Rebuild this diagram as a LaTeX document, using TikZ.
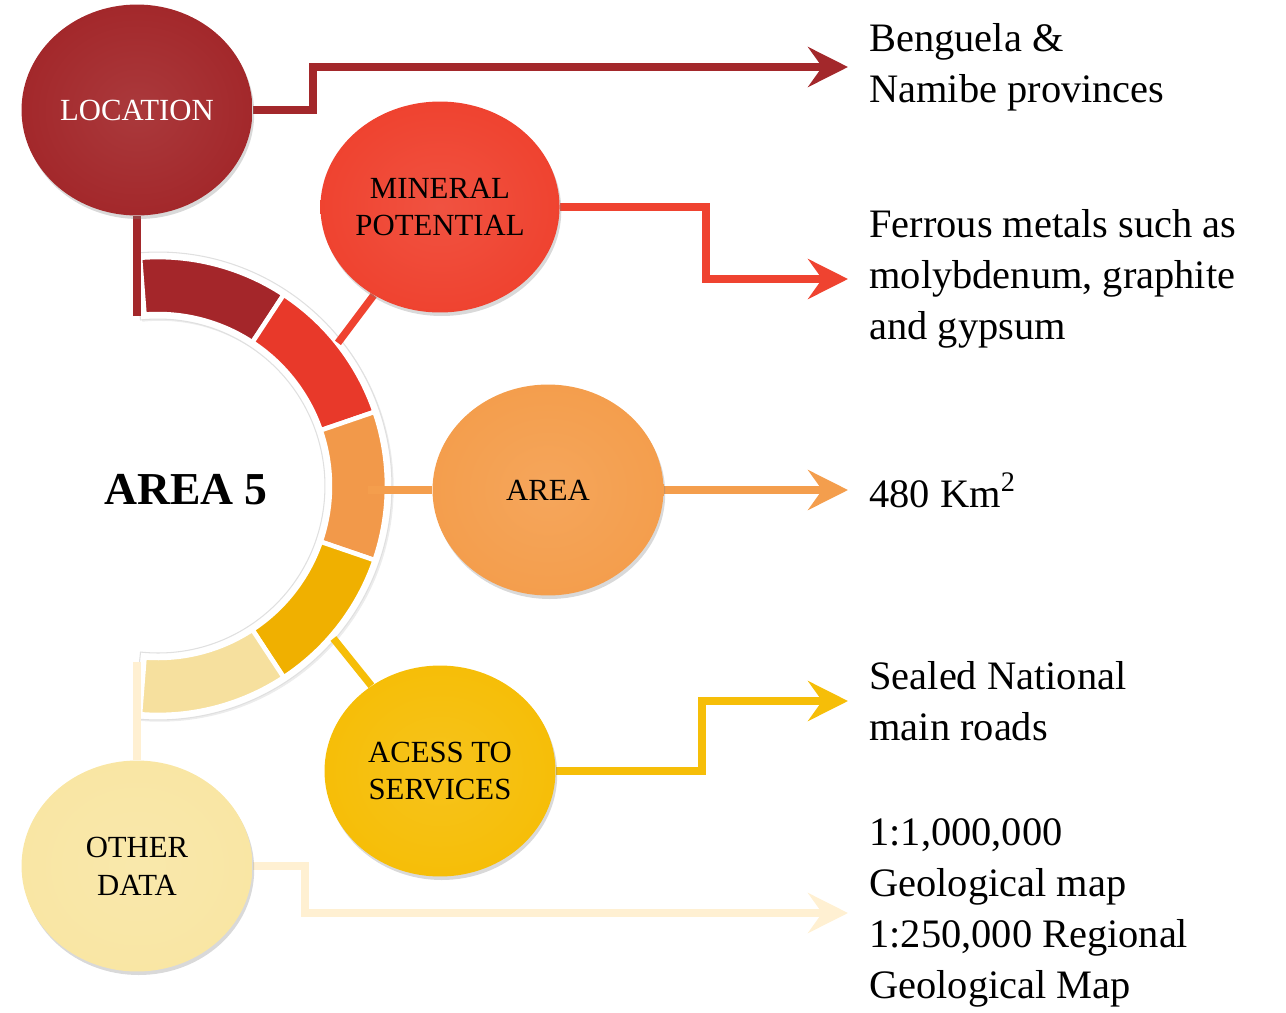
\documentclass[tikz,border=0pt]{standalone}
\usepackage{fontspec}
\setmainfont{Liberation Serif}
\usepackage{tikz}
\usetikzlibrary{positioning, arrows.meta, shapes.geometric, shadows, backgrounds}

\definecolor{locc}{HTML}{A3282B}
\definecolor{minc}{HTML}{EF4330}
\definecolor{arec}{HTML}{F49E4D}
\definecolor{accc}{HTML}{F6BE08}
\definecolor{othc}{HTML}{F9E6A4}
\definecolor{othline}{HTML}{FFF0D2}
\definecolor{segA}{HTML}{A4262A}
\definecolor{segB}{HTML}{E8392A}
\definecolor{segC}{HTML}{F2994A}
\definecolor{segD}{HTML}{F0B000}
\definecolor{segE}{HTML}{F6E09E}

\begin{document}
\begin{tikzpicture}[
		x=0.02cm, y=0.02cm,
		% Style for the coloured bubbles
		bubble/.style={
			ellipse,
			minimum width=4.62cm,
			minimum height=4.22cm,
			inner sep=0pt,
			align=center,
			inner color=#1!92!white,
			outer color=#1,
			drop shadow={opacity=0.3, shadow xshift=1pt, shadow yshift=-2pt},
			font=\fontsize{17.5}{21.5}\selectfont
		},
		% Style for the ring pieces
		segment/.style={
			fill=#1,
			draw=white,
			line width=2.6pt,
			line join=round
		},
		% Style for the plain links
		link/.style={
			draw=#1,
			line width=4.2pt
		},
		% Style for the links with a head
		pointer/.style={
			link=#1,
			-{Stealth[length=22.7pt, width=22.7pt, inset=8pt]}
		},
		% Style for the texts on the right
		info/.style={
			anchor=west,
			align=left,
			inner xsep=12pt,
			font=\fontsize{23}{29}\selectfont
		}
		]
		\useasboundingbox (0,0) rectangle (1286,-1012);
		
		% --- BUBBLES ---
		\node[bubble=locc, text=white] (loc) at (137,-110) {LOCATION};
		\node[bubble=minc] (min) at (440,-207) {MINERAL\\POTENTIAL};
		\node[bubble=arec] (are) at (548,-490) {AREA};
		\node[bubble=accc] (acc) at (440,-771) {ACESS TO\\SERVICES};
		\node[bubble=othc] (oth) at (137,-866) {OTHER\\DATA};
		
		\node[font=\fontsize{26}{30}\selectfont\bfseries] (title) at (186,-490) {AREA 5};
		
		% --- TEXTS ---
		\node[info] (locT) at (848,-67) {Benguela \&\\Namibe provinces};
		\node[info] (minT) at (848,-279) {Ferrous metals such as\\molybdenum, graphite\\and gypsum};
		\node[info] (areT) at (848,-490) {480 Km\textsuperscript{2}};
		\node[info] (accT) at (848,-701) {Sealed National\\main roads};
		\node[info] (othT) at (848,-913) {1:1,000,000\\Geological map\\1:250,000 Regional\\Geological Map};
		
		\begin{scope}[on background layer]
			% --- RING ---
			\coordinate (ring) at (158,-486);
			\fill[white, draw=black!12, line width=0.6pt, drop shadow={opacity=0.15, shadow xshift=1pt, shadow yshift=-1pt}, shift={(ring)}]
				(96:4.68cm) arc[start angle=96, delta angle=-192, radius=4.68cm]
				-- (-96:3.34cm) arc[start angle=-96, delta angle=192, radius=3.34cm] -- cycle;
			\foreach \a/\c in {94.5/segA, 56.7/segB, 18.9/segC, -18.9/segD, -56.7/segE}
				\draw[segment=\c, shift={(ring)}]
					(\a:4.58cm) arc[start angle=\a, delta angle=-37.8, radius=4.58cm]
					-- (\a-37.8:3.44cm) arc[start angle=\a-37.8, delta angle=37.8, radius=3.44cm] -- cycle;
			
			% attach points on the ring
			\coordinate (rA) at (137,-316);
			\coordinate (rB) at ([shift={(38.5:4.6cm)}]ring);
			\coordinate (rC) at (368,-490);
			\coordinate (rD) at ([shift={(-41:4.65cm)}]ring);
			\coordinate (rE) at (137,-662);
			
			% --- LINKS ---
			\draw[link=locc] (rA) -- (loc);
			\draw[link=minc] (rB) -- (min);
			\draw[link=arec] (rC) -- (are);
			\draw[link=accc] (rD) -- (acc);
			\draw[link=othline] (rE) -- (oth);
			
			\draw[pointer=locc] (loc.east) -- ++(60,0) |- (locT.west);
			\draw[pointer=minc] (min.east) -- ++(146,0) |- (minT.west);
			\draw[pointer=arec] (are.east) -- (areT.west);
			\draw[pointer=accc] (acc.east) -- ++(146,0) |- (accT.west);
			\draw[pointer=othline] (oth.east) -- ++(52,0) |- (othT.west);
		\end{scope}
		
	\end{tikzpicture}
\end{document}
